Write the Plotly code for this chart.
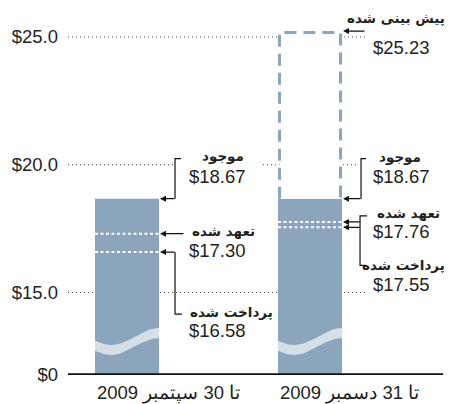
import math
import plotly.graph_objects as go

# ---------------- data ----------------
categories = ["تا 30 سپتمبر 2009", "تا 31 دسمبر 2009"]
available = [18.67, 18.67]
committed = [17.30, 17.76]
paid = [16.58, 17.55]
projected = [None, 25.23]
tick_values = [0, 15, 20, 25]
tick_labels = ["$0", "$15.0", "$20.0", "$25.0"]
label_available = "موجود"
label_committed = "تعهد شده"
label_paid = "پرداخت شده"
label_projected = "پیش بینی شده"

# ---------------- layout constants ----------------
W, H = 449, 404
M = dict(l=68, r=7, t=10, b=29)
plot_w = W - M["l"] - M["r"]
plot_h = H - M["t"] - M["b"]
BREAK = 11.77                      # axis position used for $0 (broken axis)
X_RANGE = [-0.3224, 1.7213]
Y_RANGE = [BREAK, BREAK + plot_h / 25.55]


def dx(px):
    return px * (X_RANGE[1] - X_RANGE[0]) / plot_w


def dy(px):
    return px * (Y_RANGE[1] - Y_RANGE[0]) / plot_h


def axis_y(v):
    return v if v >= 15 else BREAK + v * (15 - BREAK) / 15


xs = [0, 1]
BW = 0.35
BAR_COLOR = "#8aa5bc"
WAVE_COLOR = "#d5dfe7"
TEXT = "#231f20"
NUM_FONT = dict(family="Liberation Sans, Arial, sans-serif", size=18.5, color=TEXT)
FA_FONT = dict(family="DejaVu Sans, sans-serif", size=13.5, color=TEXT, weight="bold")

fig = go.Figure()

# projected (dashed outline box)
for x, a, p in zip(xs, available, projected):
    if p is None:
        continue
    inset = dx(1.5)
    fig.add_trace(go.Scatter(
        x=[x - BW / 2 + inset, x - BW / 2 + inset, x + BW / 2 - inset, x + BW / 2 - inset],
        y=[a, p - dy(1.5), p - dy(1.5), a],
        mode="lines", fill="toself", fillcolor="white",
        line=dict(color=BAR_COLOR, width=3, dash="12px,7px"),
        hoverinfo="skip", showlegend=False))

# bars
fig.add_trace(go.Bar(
    x=xs, y=[axis_y(a) - axis_y(0) for a in available], base=axis_y(0),
    width=BW, marker=dict(color=BAR_COLOR, line=dict(width=0)),
    hoverinfo="skip", showlegend=False))

# axis-break wave band inside bars
for x in xs:
    n = 40
    ts = [i / n for i in range(n + 1)]
    cen = [33.5 - 8.5 * math.cos(math.pi * (t - 0.25) / 0.75) for t in ts]
    xx = [x - BW / 2 + t * BW for t in ts]
    top = [axis_y(0) + dy(c + 5) for c in cen]
    bot = [axis_y(0) + dy(c - 5) for c in cen]
    fig.add_trace(go.Scatter(
        x=xx + xx[::-1], y=top + bot[::-1], mode="lines", fill="toself",
        fillcolor=WAVE_COLOR, line=dict(width=0, color=WAVE_COLOR),
        hoverinfo="skip", showlegend=False))

# white dotted lines (committed / paid)
for x, c, p in zip(xs, committed, paid):
    for v in (c, p):
        fig.add_trace(go.Scatter(
            x=[x - BW / 2, x + BW / 2], y=[v, v], mode="lines",
            line=dict(color="white", width=2, dash="3px,2.5px"),
            hoverinfo="skip", showlegend=False))

shapes = []
annotations = []

# gridlines (segments)
R1 = xs[0] + BW / 2
R2 = xs[1] + BW / 2
L2 = xs[1] - BW / 2
grid_segments = {
    25: [(X_RANGE[0], R2 + dx(24))],
    20: [(X_RANGE[0], R1 + dx(16)), (L2 - dx(15), R2 + dx(17))],
    15: [(X_RANGE[0], R2 + dx(24))],
}
for yv, segs in grid_segments.items():
    for x0, x1 in segs:
        shapes.append(dict(type="line", xref="x", yref="y", x0=x0, x1=x1,
                           y0=axis_y(yv), y1=axis_y(yv), layer="below",
                           line=dict(color="#444", width=1, dash="1px,3px")))

# baseline ($0)
shapes.append(dict(type="line", xref="paper", yref="y", x0=0, x1=1.003,
                   y0=axis_y(0), y1=axis_y(0), line=dict(color="#111", width=3.5)))


def bracket(xe, pts):
    path = "M " + " L ".join(f"{xe + dx(px)},{y}" for px, y in pts)
    shapes.append(dict(type="path", xref="x", yref="y", path=path,
                       line=dict(color="#111", width=1.2)))


def arrow(xe, y, tail_px):
    annotations.append(dict(x=xe + dx(1), y=y, xref="x", yref="y", text="",
                            showarrow=True, ax=tail_px, ay=0, arrowhead=2,
                            arrowsize=1, arrowwidth=1.2, arrowcolor="#111",
                            standoff=0))


def label(xe, y, text, xs_px, ys_px, font, anchor):
    annotations.append(dict(x=xe, y=y, xref="x", yref="y", text=text,
                            showarrow=False, xanchor=anchor, yanchor="middle",
                            xshift=xs_px, yshift=ys_px, font=font))


# --- bar 1 ---
a, c, p = available[0], committed[0], paid[0]
bracket(R1, [(22, a + dy(40)), (16, a + dy(40)), (16, a)])
arrow(R1, a, 16)
label(R1, a, label_available, 64, 43, FA_FONT, "center")
label(R1, a, f"${a:.2f}", 28, 22, NUM_FONT, "left")
arrow(R1, c, 25)
label(R1, c, label_committed, 64, 3, FA_FONT, "center")
label(R1, c, f"${c:.2f}", 28, -17, NUM_FONT, "left")
bracket(R1, [(16, p), (16, p - dy(62)), (23, p - dy(62))])
arrow(R1, p, 16)
label(R1, p, label_paid, 72, -60, FA_FONT, "center")
label(R1, p, f"${p:.2f}", 28, -78, NUM_FONT, "left")

# --- bar 2 ---
a, c, p, f = available[1], committed[1], paid[1], projected[1]
arrow(R2, f, 23)
label(R2, f, label_projected, 105, 13, FA_FONT, "right")
label(R2, f, f"${f:.2f}", 29, -16, NUM_FONT, "left")
bracket(R2, [(24, a + dy(40)), (19, a + dy(40)), (19, a)])
arrow(R2, a, 19)
label(R2, a, label_available, 58, 42, FA_FONT, "center")
label(R2, a, f"${a:.2f}", 29, 22, NUM_FONT, "left")
bracket(R2, [(25, c + dy(6)), (18, c + dy(6)), (18, p - dy(38)), (24, p - dy(38))])
arrow(R2, c, 18)
arrow(R2, p, 18)
label(R2, c, label_committed, 66, 9, FA_FONT, "center")
label(R2, c, f"${c:.2f}", 29, -10, NUM_FONT, "left")
label(R2, p, label_paid, 105, -38, FA_FONT, "right")
label(R2, p, f"${p:.2f}", 29, -57, NUM_FONT, "left")

# category labels
for x, cat in zip(xs, categories):
    annotations.append(dict(x=x - BW / 2, y=axis_y(0), xref="x", yref="y",
                            text=cat, showarrow=False, xanchor="left",
                            yanchor="middle", yshift=-18, font=NUM_FONT))

fig.update_layout(
    width=W, height=H, margin=M, paper_bgcolor="white", plot_bgcolor="white",
    showlegend=False, shapes=shapes, annotations=annotations,
    xaxis=dict(range=X_RANGE, visible=False, fixedrange=True),
    yaxis=dict(range=Y_RANGE, tickvals=[axis_y(v) for v in tick_values],
               ticktext=tick_labels, showgrid=False, zeroline=False,
               showline=False, ticks="", ticklabelstandoff=9,
               tickfont=NUM_FONT, fixedrange=True),
)

fig.write_html(
    "out.html",
    config={"displayModeBar": False, "staticPlot": True},
    post_script="document.body.style.margin='0';document.body.style.overflow='hidden';",
)
